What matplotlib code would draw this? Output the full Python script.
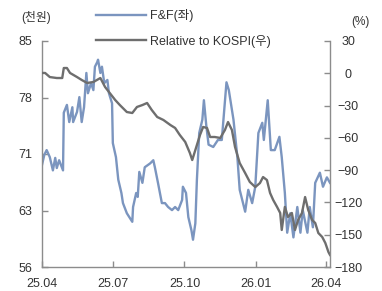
import matplotlib.pyplot as plt
import matplotlib.dates as mdates
import numpy as np
import pandas as pd

plt.rcParams['font.family'] = ['Liberation Sans', 'Noto Sans CJK KR', 'DejaVu Sans']

# F&F share price (thousand KRW, left axis)
ff_dates = [
    "2025-04-01", "2025-04-04", "2025-04-07", "2025-04-11", "2025-04-15", "2025-04-18",
    "2025-04-20", "2025-04-23", "2025-04-28", "2025-04-29", "2025-05-03", "2025-05-06",
    "2025-05-10", "2025-05-11", "2025-05-16", "2025-05-19", "2025-05-22", "2025-05-25",
    "2025-05-28", "2025-05-30", "2025-06-03", "2025-06-06", "2025-06-08", "2025-06-11",
    "2025-06-12", "2025-06-15", "2025-06-17", "2025-06-20", "2025-06-24", "2025-06-26",
    "2025-06-30", "2025-07-01", "2025-07-05", "2025-07-08", "2025-07-12", "2025-07-14",
    "2025-07-19", "2025-07-26", "2025-07-27", "2025-07-31", "2025-08-02", "2025-08-04",
    "2025-08-08", "2025-08-11", "2025-08-18", "2025-08-22", "2025-08-24", "2025-08-28",
    "2025-09-02", "2025-09-06", "2025-09-10", "2025-09-15", "2025-09-19", "2025-09-23",
    "2025-09-28", "2025-09-29", "2025-10-03", "2025-10-06", "2025-10-10", "2025-10-12",
    "2025-10-15", "2025-10-17", "2025-10-20", "2025-10-24", "2025-10-26", "2025-10-29",
    "2025-11-01", "2025-11-07", "2025-11-13", "2025-11-18", "2025-11-24", "2025-11-27",
    "2025-12-03", "2025-12-08", "2025-12-11", "2025-12-18", "2025-12-22", "2025-12-27",
    "2025-12-31", "2026-01-04", "2026-01-09", "2026-01-11", "2026-01-16", "2026-01-20",
    "2026-01-25", "2026-01-31", "2026-02-03", "2026-02-07", "2026-02-10", "2026-02-14",
    "2026-02-18", "2026-02-23", "2026-02-27", "2026-03-02", "2026-03-08", "2026-03-11",
    "2026-03-15", "2026-03-18", "2026-03-24", "2026-03-28", "2026-04-02", "2026-04-06",
]
ff_price = [
    69.1, 70.4, 71.0, 70.1, 68.4, 70.0, 68.7, 69.7, 68.4, 75.8, 76.8, 74.6,
    76.5, 74.6, 75.9, 77.8, 74.6, 76.5, 80.9, 78.3, 79.6, 78.7, 81.7, 82.3,
    82.6, 80.9, 81.7, 79.6, 80.0, 78.3, 77.0, 71.9, 70.1, 67.2, 65.5, 64.2,
    62.9, 61.8, 63.7, 65.5, 65.0, 68.2, 66.8, 68.8, 69.3, 69.7, 68.8, 66.8,
    64.2, 64.2, 63.7, 63.3, 63.7, 63.3, 64.6, 66.3, 65.5, 62.4, 60.7, 59.5,
    61.6, 67.2, 73.2, 74.9, 77.4, 74.2, 71.7, 71.4, 72.3, 72.3, 79.7, 78.7,
    74.9, 70.1, 65.9, 63.1, 65.9, 64.2, 66.3, 73.2, 74.5, 72.3, 77.4, 71.0,
    71.0, 72.7, 70.1, 65.5, 60.4, 62.9, 59.8, 63.7, 60.4, 63.3, 60.4, 63.7,
    61.1, 66.8, 68.1, 66.3, 67.5, 66.8,
]

# Relative performance vs KOSPI (%, right axis)
rel_dates = [
    "2025-04-01", "2025-04-05", "2025-04-11", "2025-04-20", "2025-04-27", "2025-04-29",
    "2025-05-03", "2025-05-07", "2025-05-16", "2025-05-22", "2025-05-29", "2025-06-06",
    "2025-06-15", "2025-06-21", "2025-06-27", "2025-07-04", "2025-07-10", "2025-07-19",
    "2025-07-26", "2025-08-01", "2025-08-08", "2025-08-14", "2025-08-20", "2025-08-27",
    "2025-09-04", "2025-09-13", "2025-09-19", "2025-09-25", "2025-10-02", "2025-10-08",
    "2025-10-11", "2025-10-15", "2025-10-21", "2025-10-25", "2025-10-30", "2025-11-03",
    "2025-11-09", "2025-11-16", "2025-11-22", "2025-11-26", "2025-12-01", "2025-12-05",
    "2025-12-11", "2025-12-18", "2025-12-24", "2025-12-31", "2026-01-06", "2026-01-10",
    "2026-01-15", "2026-01-19", "2026-01-23", "2026-01-28", "2026-02-01", "2026-02-03",
    "2026-02-07", "2026-02-11", "2026-02-16", "2026-02-20", "2026-02-24", "2026-03-01",
    "2026-03-05", "2026-03-09", "2026-03-14", "2026-03-18", "2026-03-22", "2026-03-27",
    "2026-03-31", "2026-04-04", "2026-04-06",
]
rel_kospi = [
    0.3, 0.3, -3.5, -4.4, -4.4, 4.9, 4.9, 0.3, -3.5, -6.2, -9.0, -8.1,
    -4.4, -12.7, -18.3, -24.8, -29.5, -36.0, -36.9, -31.3, -29.5, -27.6, -34.1, -40.6,
    -43.4, -48.1, -50.8, -57.3, -63.8, -74.1, -80.6, -71.3, -57.3, -49.9, -50.8, -59.2,
    -59.2, -60.1, -52.7, -45.3, -52.7, -68.5, -83.4, -92.7, -101.0, -105.7, -102.0, -96.4,
    -99.2, -111.2, -117.7, -124.2, -129.8, -145.6, -124.2, -133.5, -129.8, -145.6, -136.3, -129.8,
    -115.0, -127.0, -136.3, -139.1, -148.4, -152.1, -157.7, -166.1, -168.8,
]

left_ticks = [56, 63.25, 70.5, 77.75, 85]
left_labels = ["56", "63", "71", "78", "85"]
right_ticks = [30, 0, -30, -60, -90, -120, -150, -180]
x_ticks = ["2025-04-01", "2025-07-01", "2025-10-01", "2026-01-01", "2026-04-01"]

blue = "#7b95bf"
grey = "#6e6e6e"
axis_col = "#8c8c8c"
text_col = "#333333"

fig = plt.figure(figsize=(3.82, 2.91), dpi=100)
ax = fig.add_axes([42 / 382, 1 - 267 / 291, 288 / 382, 226 / 291])
ax2 = ax.twinx()

l1, = ax.plot(pd.to_datetime(ff_dates), ff_price, color=blue, lw=1.7, label="F&F(좌)")
l2, = ax2.plot(pd.to_datetime(rel_dates), rel_kospi, color=grey, lw=1.7,
               label="Relative to KOSPI(우)")

ax.set_xlim(pd.Timestamp("2025-04-01"), pd.Timestamp("2026-04-06"))
ax.set_ylim(56, 85)
ax2.set_ylim(-180, 30)

ax.set_yticks(left_ticks)
ax.set_yticklabels(left_labels)
ax2.set_yticks(right_ticks)
ax.set_xticks(pd.to_datetime(x_ticks))
ax.xaxis.set_major_formatter(mdates.DateFormatter("%y.%m"))

for a in (ax, ax2):
    a.spines["top"].set_visible(False)
    for s in ("left", "right", "bottom"):
        a.spines[s].set_color(axis_col)
        a.spines[s].set_linewidth(1.0)
    a.tick_params(direction="in", length=4, width=1.0, color=axis_col,
                  labelcolor=text_col, labelsize=9)
ax.spines["right"].set_visible(False)
ax2.spines["left"].set_visible(False)
ax2.spines["bottom"].set_visible(False)
ax.tick_params(axis="y", pad=7)
ax.tick_params(axis="x", pad=8)
ax2.tick_params(axis="y", pad=13)
for lab in ax2.get_yticklabels():
    lab.set_ha("center")

fig.text(36 / 382, 1 - 17 / 291, "(천원)", ha="center", va="center",
         fontsize=8.5, color=text_col)
fig.text(360 / 382, 1 - 22 / 291, "(%)", ha="center", va="center",
         fontsize=8.5, color=text_col)

fig.legend(handles=[l1, l2], loc="upper left", bbox_to_anchor=(96 / 382, 1 - 9 / 291),
           frameon=False, fontsize=9, handlelength=4.0, handletextpad=0.35,
           labelspacing=1.0, borderpad=0, borderaxespad=0, labelcolor=text_col)

fig.savefig("out.png", dpi=100)
